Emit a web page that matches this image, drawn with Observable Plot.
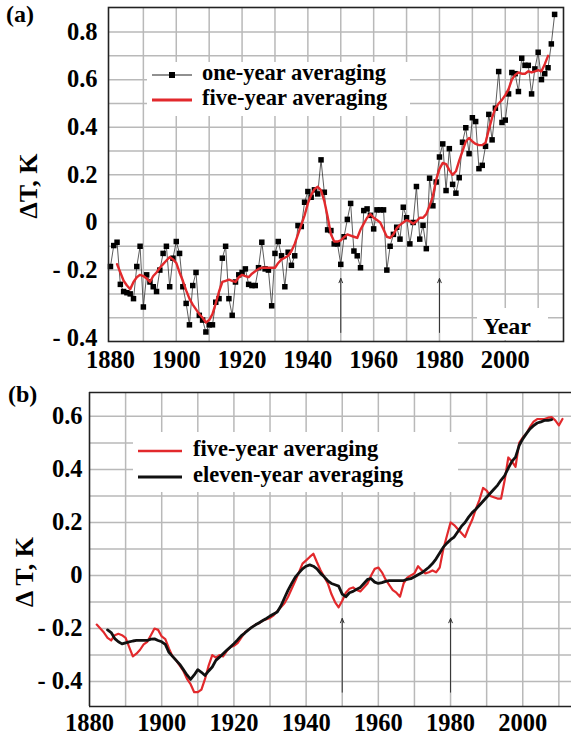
<!DOCTYPE html>
<html><head><meta charset="utf-8">
<script src="https://cdn.jsdelivr.net/npm/d3@7"></script>
<script src="https://cdn.jsdelivr.net/npm/@observablehq/plot@0.6"></script>
<style>
html,body{margin:0;padding:0;background:#fff;}
#wrap{position:relative;width:571px;height:736px;overflow:hidden;background:#fff;}
#wrap svg{position:absolute;left:0;}
</style></head><body><div id="wrap"></div>
<script>
// ---------- Panel (a) data ----------
const yearsA = d3.range(1880, 2016);
const oneYearA = [
-0.185,-0.097,-0.083,-0.26,-0.29,-0.295,-0.30,-0.32,-0.185,-0.10,
-0.355,-0.22,-0.25,-0.27,-0.29,-0.20,-0.13,-0.10,-0.27,-0.15,
-0.08,-0.13,-0.27,-0.34,-0.43,-0.265,-0.21,-0.39,-0.41,-0.46,
-0.43,-0.43,-0.335,-0.32,-0.15,-0.10,-0.32,-0.39,-0.25,-0.22,
-0.21,-0.195,-0.26,-0.265,-0.265,-0.19,-0.083,-0.195,-0.20,-0.35,
-0.13,-0.08,-0.14,-0.27,-0.125,-0.18,-0.14,-0.013,-0.017,0.085,
0.13,0.106,0.137,0.12,0.263,0.127,-0.031,-0.034,-0.09,-0.09,
-0.176,-0.06,0.013,0.08,-0.12,-0.14,-0.19,0.05,0.057,0.03,
-0.027,0.053,0.053,0.053,-0.20,-0.10,-0.05,-0.02,-0.07,0.064,
0.02,-0.09,0.0,0.151,-0.07,-0.012,-0.11,0.186,0.07,0.17,
0.275,0.33,0.134,0.31,0.16,0.123,0.188,0.337,0.398,0.289,
0.44,0.424,0.226,0.24,0.32,0.454,0.347,0.48,0.634,0.42,
0.43,0.54,0.63,0.625,0.55,0.69,0.66,0.66,0.54,0.645,
0.715,0.60,0.625,0.65,0.75,0.874];
const yearsA5 = d3.range(1882, 2014);
const fiveYearA = [
-0.175,-0.21,-0.245,-0.265,-0.28,-0.25,-0.23,-0.22,
-0.225,-0.235,-0.25,-0.225,-0.21,-0.19,-0.175,-0.16,-0.145,-0.155,
-0.17,-0.21,-0.245,-0.285,-0.32,-0.345,-0.365,-0.385,-0.40,-0.42,
-0.41,-0.385,-0.34,-0.29,-0.25,-0.245,-0.24,-0.245,-0.25,-0.23,
-0.22,-0.225,-0.23,-0.215,-0.205,-0.195,-0.19,-0.19,-0.19,-0.19,
-0.19,-0.17,-0.155,-0.148,-0.14,-0.12,-0.09,-0.05,-0.01,0.03,
0.08,0.115,0.14,0.15,0.135,0.09,0.025,-0.05,-0.08,-0.08,
-0.075,-0.062,-0.05,-0.055,-0.06,-0.065,-0.03,-0.005,0.02,0.035,
0.02,0.01,0.0,-0.03,-0.06,-0.065,-0.05,-0.025,-0.01,0.0,
0.01,0.005,-0.005,0.005,0.02,0.02,0.035,0.07,0.11,0.18,
0.225,0.25,0.245,0.22,0.20,0.215,0.26,0.30,0.34,0.355,
0.34,0.33,0.325,0.325,0.335,0.39,0.44,0.48,0.50,0.515,
0.535,0.56,0.60,0.62,0.63,0.625,0.625,0.635,0.63,0.635,
0.64,0.635,0.665,0.70];
const xTicksA = [1880, 1900, 1920, 1940, 1960, 1980, 2000];
const yTicksA = [0.8, 0.6, 0.4, 0.2, 0, -0.2];
const yTickLowA = [-0.4];
const gridXA = [1890,1900,1910,1920,1930,1940,1950,1960,1970,1980,1990,2000,2010];
const gridYA = [-0.4,-0.3,-0.2,-0.1,0,0.1,0.2,0.3,0.4,0.5,0.6,0.7,0.8];
const arrowYears = [1950, 1980];
const arrowSpanA = [-0.462, -0.235];

// ---------- Panel (b) data ----------
const yearsB5 = d3.range(1882, 2012);
const fiveYearB = [
-0.185,-0.20,-0.215,-0.235,-0.245,-0.225,-0.22,-0.225,
-0.235,-0.27,-0.305,-0.295,-0.28,-0.26,-0.25,-0.225,-0.20,-0.205,
-0.23,-0.24,-0.275,-0.305,-0.32,-0.34,-0.36,-0.39,-0.41,-0.44,
-0.44,-0.43,-0.39,-0.34,-0.30,-0.31,-0.30,-0.305,-0.285,-0.27,
-0.265,-0.255,-0.235,-0.215,-0.205,-0.195,-0.185,-0.18,-0.17,-0.165,
-0.16,-0.15,-0.135,-0.12,-0.105,-0.08,-0.05,-0.02,0.012,0.045,
0.057,0.07,0.082,0.05,0.02,-0.005,-0.03,-0.07,-0.10,-0.12,
-0.095,-0.065,-0.05,-0.045,-0.055,-0.06,-0.045,-0.03,0.0,0.025,
0.03,0.012,-0.015,-0.035,-0.055,-0.065,-0.08,-0.03,-0.008,0.0,
0.008,0.035,0.02,0.008,0.012,0.019,0.012,0.03,0.10,0.15,
0.20,0.19,0.175,0.16,0.145,0.18,0.21,0.25,0.285,0.33,
0.32,0.30,0.295,0.29,0.29,0.36,0.445,0.43,0.41,0.50,
0.52,0.535,0.56,0.58,0.59,0.59,0.59,0.595,0.597,0.585,
0.566,0.59];
const yearsB11 = d3.range(1885, 2009);
const elevenYearB = [
-0.205,-0.215,-0.238,-0.25,-0.258,
-0.254,-0.25,-0.247,-0.245,-0.245,-0.245,-0.245,-0.24,-0.239,-0.245,
-0.25,-0.26,-0.29,-0.305,-0.32,-0.335,-0.355,-0.375,-0.392,-0.375,
-0.355,-0.365,-0.377,-0.36,-0.345,-0.32,-0.308,-0.295,-0.282,-0.27,
-0.257,-0.243,-0.228,-0.217,-0.205,-0.195,-0.186,-0.178,-0.17,-0.162,
-0.153,-0.145,-0.138,-0.115,-0.085,-0.055,-0.03,-0.006,0.01,0.025,
0.035,0.04,0.035,0.025,0.008,-0.005,-0.02,-0.03,-0.035,-0.04,
-0.07,-0.08,-0.065,-0.06,-0.052,-0.045,-0.03,-0.015,-0.012,-0.025,
-0.03,-0.027,-0.022,-0.019,-0.019,-0.019,-0.019,-0.019,-0.015,-0.012,
-0.005,0.003,0.01,0.02,0.031,0.045,0.063,0.085,0.107,0.122,
0.135,0.145,0.165,0.185,0.20,0.22,0.237,0.25,0.265,0.28,
0.295,0.31,0.325,0.34,0.36,0.377,0.405,0.43,0.446,0.49,
0.515,0.535,0.553,0.565,0.575,0.579,0.585,0.585,0.588];
const xTicksB = [1880, 1900, 1920, 1940, 1960, 1980, 2000];
const yTicksB = [0.6, 0.4, 0.2, 0, -0.2, -0.4];
const gridXB = [1890,1900,1910,1920,1930,1940,1950,1960,1970,1980,1990,2000,2010];
const gridYB = [-0.4,-0.3,-0.2,-0.1,0,0.1,0.2,0.3,0.4,0.5,0.6];
const arrowSpanB = [-0.44, -0.162];

// ---------- helpers ----------
const FONT = "Liberation Serif";
const TICKFS = 24.5;
const fmt = d => d < 0 ? "- " + (+(-d).toFixed(1)) : (d === 0 ? "0" : String(d));
const GRID = "#b9b9b9";
const RED = "#e2292c";
const ptsA = yearsA.map((y, i) => ({year: y, v: oneYearA[i]}));
const redA = yearsA5.map((y, i) => ({year: y, v: fiveYearA[i]}));
const redB = yearsB5.map((y, i) => ({year: y, v: fiveYearB[i]}));
const blkB = yearsB11.map((y, i) => ({year: y, v: elevenYearB[i]}));
const styleObj = {fontFamily: FONT, fontWeight: "bold", fontSize: TICKFS + "px", background: "white", color: "black", overflow: "visible"};

const plotA = Plot.plot({
  width: 571, height: 370,
  marginLeft: 108, marginRight: 8, marginTop: 7, marginBottom: 29,
  x: {domain: [1879.4, 2017.7]},
  y: {domain: [-0.5, 0.903]},
  style: styleObj,
  marks: [
    Plot.gridX(gridXA, {stroke: GRID, strokeOpacity: 1, strokeWidth: 1.5}),
    Plot.gridY(gridYA, {stroke: GRID, strokeOpacity: 1, strokeWidth: 1.5}),
    Plot.axisX(xTicksA, {tickSize: 0, tickPadding: 9, tickFormat: d => String(d), fontSize: TICKFS, fontWeight: "bold", label: null}),
    Plot.axisY(yTicksA, {tickSize: 0, tickPadding: 11, tickFormat: fmt, fontSize: TICKFS, fontWeight: "bold", label: null}),
    Plot.axisY(yTickLowA, {tickSize: 0, tickPadding: 11, dy: 20, tickFormat: fmt, fontSize: TICKFS, fontWeight: "bold", label: null}),
    Plot.arrow(arrowYears, {x1: d => d, x2: d => d, y1: () => arrowSpanA[0], y2: () => arrowSpanA[1],
      stroke: "#333", strokeWidth: 1, headLength: 7, headAngle: 45}),
    Plot.line(ptsA, {x: "year", y: "v", stroke: "#333", strokeWidth: 0.8}),
    Plot.dot(ptsA, {x: "year", y: "v", symbol: "square", r: 3.1, fill: "#000", stroke: "none"}),
    Plot.line(redA, {x: "year", y: "v", stroke: RED, strokeWidth: 2.4}),
    Plot.frame({stroke: "#222", strokeWidth: 1.6})
  ]
});
plotA.style.top = "0px";

const xDomB = [1880, 2013.5];
const yDomB = [-0.494, 0.69];
const plotB = Plot.plot({
  width: 571, height: 366,
  marginLeft: 89, marginRight: 0, marginTop: 22, marginBottom: 30,
  x: {domain: xDomB},
  y: {domain: yDomB},
  style: styleObj,
  marks: [
    Plot.gridX(gridXB, {stroke: GRID, strokeOpacity: 1, strokeWidth: 1.5}),
    Plot.gridY(gridYB, {stroke: GRID, strokeOpacity: 1, strokeWidth: 1.5}),
    Plot.axisX(xTicksB, {tickSize: 0, tickPadding: 7, tickFormat: d => String(d), fontSize: TICKFS, fontWeight: "bold", label: null}),
    Plot.axisY(yTicksB, {tickSize: 0, tickPadding: 7, tickFormat: fmt, fontSize: TICKFS, fontWeight: "bold", label: null}),
    Plot.arrow(arrowYears, {x1: d => d, x2: d => d, y1: () => arrowSpanB[0], y2: () => arrowSpanB[1],
      stroke: "#333", strokeWidth: 1, headLength: 7, headAngle: 45}),
    Plot.line(redB, {x: "year", y: "v", stroke: RED, strokeWidth: 2.2}),
    Plot.line(blkB, {x: "year", y: "v", stroke: "#111", strokeWidth: 2.8}),
    Plot.ruleY([yDomB[0]], {stroke: "#222", strokeWidth: 1.6}),
    Plot.ruleY([yDomB[1]], {stroke: "#222", strokeWidth: 1.6}),
    Plot.ruleX([xDomB[0]], {stroke: "#222", strokeWidth: 1.6})
  ]
});
plotB.style.top = "370px";

const wrap = document.getElementById("wrap");
wrap.appendChild(plotA);
wrap.appendChild(plotB);

// ---------- overlay: labels and legends ----------
const ov = d3.select(wrap).append("svg")
  .attr("width", 571).attr("height", 736)
  .style("top", "0px").style("pointer-events", "none")
  .attr("font-family", FONT).attr("font-weight", "bold");

// panel (a)
ov.append("text").attr("x", 6).attr("y", 22).attr("font-size", 24).text("(a)");
ov.append("text").attr("transform", "translate(37,186) rotate(-90)").attr("text-anchor", "middle")
  .attr("font-size", 26).text("ΔT, K");
ov.append("rect").attr("x", 147).attr("y", 62).attr("width", 263).attr("height", 54).attr("fill", "#fff");
ov.append("line").attr("x1", 152).attr("x2", 192).attr("y1", 75).attr("y2", 75).attr("stroke", "#222").attr("stroke-width", 1.2);
ov.append("rect").attr("x", 169).attr("y", 72).attr("width", 6).attr("height", 6).attr("fill", "#000");
ov.append("line").attr("x1", 152).attr("x2", 192).attr("y1", 100).attr("y2", 100).attr("stroke", RED).attr("stroke-width", 3);
ov.append("text").attr("x", 202).attr("y", 80).attr("font-size", 22.5).text("one-year averaging");
ov.append("text").attr("x", 202).attr("y", 105).attr("font-size", 22.5).text("five-year averaging");
ov.append("rect").attr("x", 477).attr("y", 308).attr("width", 71).attr("height", 32).attr("fill", "#fff");
ov.append("text").attr("x", 483).attr("y", 334).attr("font-size", 24).text("Year");

// panel (b)
ov.append("text").attr("x", 8).attr("y", 402).attr("font-size", 24).text("(b)");
ov.append("text").attr("transform", "translate(33,572) rotate(-90)").attr("text-anchor", "middle")
  .attr("font-size", 26).text("Δ T, K");
ov.append("rect").attr("x", 133).attr("y", 432).attr("width", 325).attr("height", 60).attr("fill", "#fff");
ov.append("line").attr("x1", 138).attr("x2", 182).attr("y1", 451).attr("y2", 451).attr("stroke", RED).attr("stroke-width", 2.5);
ov.append("line").attr("x1", 138).attr("x2", 182).attr("y1", 477).attr("y2", 477).attr("stroke", "#111").attr("stroke-width", 3);
ov.append("text").attr("x", 193).attr("y", 456).attr("font-size", 22.5).text("five-year averaging");
ov.append("text").attr("x", 193).attr("y", 482).attr("font-size", 22.5).text("eleven-year averaging");
</script></body></html>
